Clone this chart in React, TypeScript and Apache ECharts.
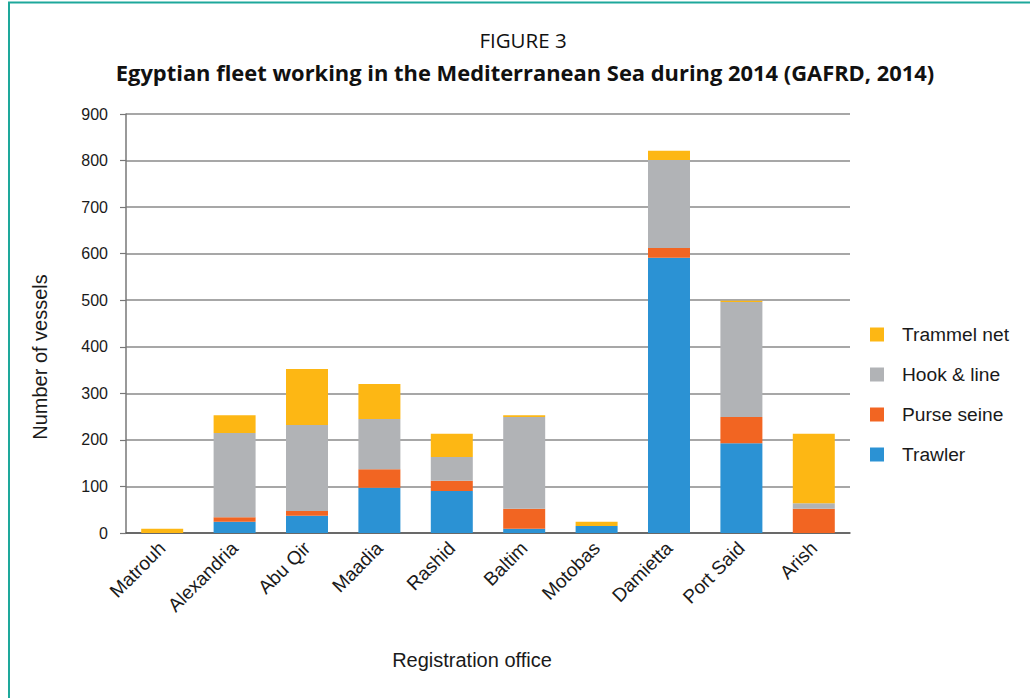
import React, { useEffect, useRef } from "react";
import * as echarts from "echarts";

// Registration offices along the Mediterranean coast
const offices = [
  "Matrouh",
  "Alexandria",
  "Abu Qir",
  "Maadia",
  "Rashid",
  "Baltim",
  "Motobas",
  "Damietta",
  "Port Said",
  "Arish",
];

// Number of vessels per gear type and office
const trawler = [0, 24, 37, 97, 90, 9, 15, 591, 193, 0];
const purseSeine = [0, 10, 10, 40, 22, 43, 0, 21, 56, 52];
const hookAndLine = [0, 181, 185, 108, 51, 197, 0, 189, 247, 12];
const trammelNet = [9, 38, 120, 75, 50, 4, 9, 20, 3, 149];

const yTicks = [0, 100, 200, 300, 400, 500, 600, 700, 800, 900];

const FONT = "'Liberation Sans', Arial, sans-serif";
const TITLE_FONT = "'Open Sans', 'Noto Sans', sans-serif";

export default function App() {
  const ref = useRef<HTMLDivElement>(null);

  useEffect(() => {
    if (!ref.current) return;
    const chart = echarts.init(ref.current, null, { renderer: "svg" });

    const mkSeries = (name: string, data: number[], color: string) => ({
      name,
      type: "bar",
      stack: "fleet",
      data,
      barCategoryGap: "42%",
      itemStyle: { color },
    });

    chart.setOption({
      animation: false,
      backgroundColor: "#ffffff",
      textStyle: { fontFamily: FONT },
      grid: { left: 126, right: 180, top: 114, bottom: 165, containLabel: false },
      legend: {
        orient: "vertical",
        left: 865,
        top: 320,
        itemWidth: 14,
        itemHeight: 14,
        itemGap: 21,
        icon: "rect",
        data: ["Trammel net", "Hook & line", "Purse seine", "Trawler"],
        textStyle: { fontFamily: FONT, fontSize: 19.2, color: "#1a1a1a", padding: [0, 0, 0, 13] },
      },
      xAxis: {
        type: "category",
        data: offices,
        axisLine: { lineStyle: { color: "#555555", width: 1.5 } },
        axisTick: { show: false },
        axisLabel: {
          rotate: 45,
          margin: 12,
          fontFamily: FONT,
          fontSize: 19,
          color: "#1a1a1a",
        },
      },
      yAxis: {
        type: "value",
        min: yTicks[0],
        max: yTicks[yTicks.length - 1],
        interval: 100,
        axisLine: { show: true, lineStyle: { color: "#777777", width: 1.5 } },
        axisTick: { show: true, length: 6, lineStyle: { color: "#777777", width: 1.2 } },
        axisLabel: { margin: 18, fontFamily: FONT, fontSize: 16, color: "#1a1a1a" },
        splitLine: { lineStyle: { color: "#8a8a8a", width: 1.5 } },
      },
      series: [
        mkSeries("Trawler", trawler, "#2b92d4"),
        mkSeries("Purse seine", purseSeine, "#f26522"),
        mkSeries("Hook & line", hookAndLine, "#b1b3b6"),
        mkSeries("Trammel net", trammelNet, "#fdb714"),
      ],
      graphic: [
        {
          type: "rect",
          shape: { x: 9, y: 2.5, width: 1200, height: 900 },
          style: { fill: "none", stroke: "#1ea89b", lineWidth: 2 },
          silent: true,
        },
        {
          type: "text",
          x: 523,
          y: 40,
          style: {
            text: "FIGURE 3",
            fontFamily: TITLE_FONT,
            fontSize: 20.5,
            fill: "#111111",
            align: "center",
            verticalAlign: "middle",
          },
        },
        {
          type: "text",
          x: 525,
          y: 72,
          style: {
            text: "Egyptian fleet working in the Mediterranean Sea during 2014 (GAFRD, 2014)",
            fontFamily: TITLE_FONT,
            fontSize: 21.9,
            fontWeight: "bold",
            fill: "#111111",
            align: "center",
            verticalAlign: "middle",
          },
        },
        {
          type: "text",
          x: 40,
          y: 357,
          rotation: Math.PI / 2,
          style: {
            text: "Number of vessels",
            fontFamily: FONT,
            fontSize: 20,
            fill: "#1a1a1a",
            align: "center",
            verticalAlign: "middle",
          },
        },
        {
          type: "text",
          x: 472,
          y: 660,
          style: {
            text: "Registration office",
            fontFamily: FONT,
            fontSize: 20,
            fill: "#1a1a1a",
            align: "center",
            verticalAlign: "middle",
          },
        },
      ],
    });

    return () => chart.dispose();
  }, []);

  return (
    <div
      ref={ref}
      style={{ position: "fixed", left: 0, top: 0, width: 1030, height: 698 }}
    />
  );
}
